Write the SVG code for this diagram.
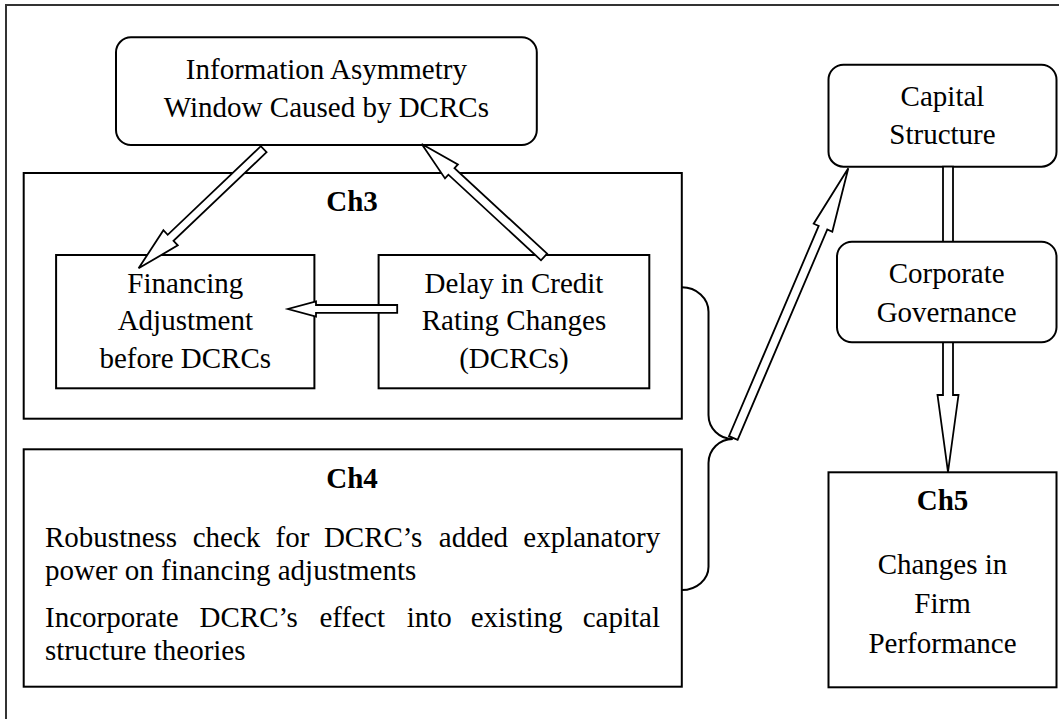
<svg xmlns="http://www.w3.org/2000/svg" width="1059" height="719" viewBox="0 0 1059 719">
<style>
  .box{fill:#fff;stroke:#000;stroke-width:2}
  .t{font-family:"Liberation Serif","Times New Roman",serif;font-size:29px;fill:#000;text-anchor:middle}
  .b{font-weight:bold}
  .p{font-family:"Liberation Serif","Times New Roman",serif;font-size:29px;fill:#000}
  .arr{fill:#fff;stroke:#000;stroke-width:1.8;stroke-linejoin:miter}
  .brace{fill:none;stroke:#000;stroke-width:2}
</style>
<rect width="1059" height="719" fill="#fff"/>
<rect x="6" y="5" width="1070" height="730" fill="none" stroke="#333" stroke-width="2"/>

<g id="ch3">
  <rect class="box" x="23.7" y="173" width="658.1" height="245.7"/>
  <text class="t b" x="352" y="211">Ch3</text>
</g>
<g id="ch4">
  <rect class="box" x="23.7" y="449.3" width="658.1" height="237.4"/>
  <text class="t b" x="352" y="488">Ch4</text>
  <text class="p" y="547"><tspan x="45">Robustness</tspan><tspan x="192.7">check</tspan><tspan x="275.5">for</tspan><tspan x="323.9">DCRC’s</tspan><tspan x="438.8">added</tspan><tspan x="523.3">explanatory</tspan></text>
  <text class="p" x="45" y="580">power on financing adjustments</text>
  <text class="p" y="627"><tspan x="45">Incorporate</tspan><tspan x="199.5">DCRC’s</tspan><tspan x="319.5">effect</tspan><tspan x="406.7">into</tspan><tspan x="470.7">existing</tspan><tspan x="582.7">capital</tspan></text>
  <text class="p" x="45" y="660">structure theories</text>
</g>
<g id="info">
  <rect class="box" x="116" y="37.3" width="420.8" height="107.7" rx="15" ry="15"/>
  <text class="t" x="326.4" y="79.3">Information Asymmetry</text>
  <text class="t" x="326.4" y="117.3">Window Caused by DCRCs</text>
</g>
<g id="financing">
  <rect class="box" x="56.1" y="255" width="258.3" height="133.3"/>
  <text class="t" x="185.3" y="292.7">Financing</text>
  <text class="t" x="185.3" y="330">Adjustment</text>
  <text class="t" x="185.3" y="367.5">before DCRCs</text>
</g>
<g id="delay">
  <rect class="box" x="378.6" y="255" width="270.7" height="133.3"/>
  <text class="t" x="514" y="292.7">Delay in Credit</text>
  <text class="t" x="514" y="330">Rating Changes</text>
  <text class="t" x="514" y="367.5">(DCRCs)</text>
</g>
<g id="capital">
  <rect class="box" x="828.5" y="64.7" width="228" height="102" rx="15" ry="15"/>
  <text class="t" x="942.5" y="106">Capital</text>
  <text class="t" x="942.5" y="144.3">Structure</text>
</g>
<g id="ch5">
  <rect class="box" x="828.5" y="472.3" width="228" height="215"/>
  <text class="t b" x="942.5" y="510">Ch5</text>
  <text class="t" x="942.5" y="574">Changes in</text>
  <text class="t" x="942.5" y="613.3">Firm</text>
  <text class="t" x="942.5" y="653.3">Performance</text>
</g>

<g id="connectors">
  <polygon class="arr" points="266.6,152.2 173.5,240.8 177.8,245.4 138.6,268.3 163.4,230.2 167.7,234.8 260.8,146.2"/>
  <polygon class="arr" points="547.1,253.7 454.5,168.1 457.9,164.4 421.7,144 445.0,178.4 448.4,174.7 541.0,260.3"/>
  <polygon class="arr" points="397.2,305 316,305 316,301.5 288,309 316,316.5 316,312.8 397.2,312.8"/>
  <path class="brace" d="M681.8,287.3 A26.7 24.5 0 0 1 708.5,311.8 L708.5,415 A24.3 24 0 0 0 732.8,439 A24.3 24 0 0 0 708.5,463 L708.5,566.7 A26.7 23.3 0 0 1 681.8,590"/>
  <polygon class="arr" points="737.6,439.8 827.3,229.5 832.3,231.7 848.3,168.3 813.7,223.7 818.7,225.9 729.0,436.2"/>
  <polygon class="arr" points="953,166.7 953,395 958.5,395 948,472 937.5,395 943,395 943,166.7"/>
</g>

<g id="governance">
  <rect class="box" x="837" y="241.7" width="219.5" height="100.6" rx="15" ry="15"/>
  <text class="t" x="946.7" y="283.3">Corporate</text>
  <text class="t" x="946.7" y="321.7">Governance</text>
</g>
</svg>
